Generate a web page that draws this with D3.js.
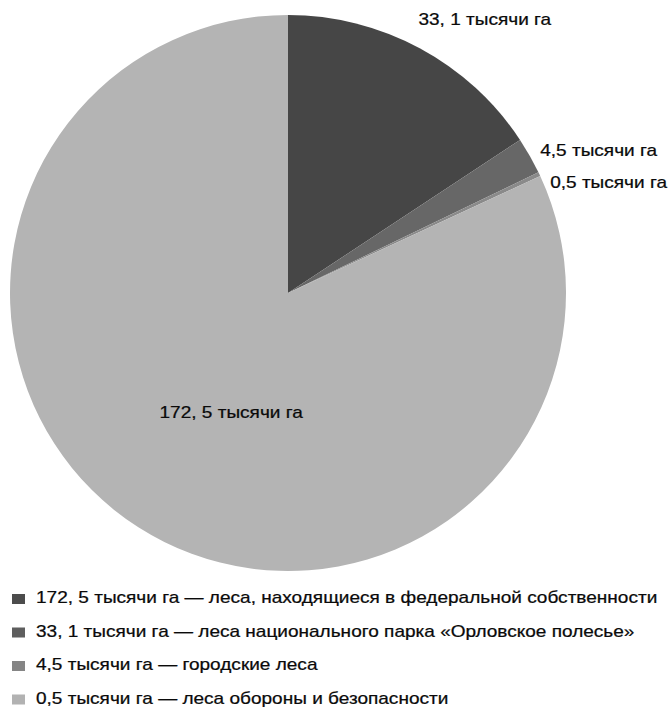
<!DOCTYPE html>
<html>
<head>
<meta charset="utf-8">
<script src="https://cdn.jsdelivr.net/npm/d3@7"></script>
<style>
  body { margin: 0; background: #fff; }
  text { font-family: "Liberation Sans", Arial, sans-serif; fill: #0a0a0a; stroke: #0a0a0a; stroke-width: 0.25; }
</style>
</head>
<body>
<div id="chart"></div>
<script>
// slices, clockwise from 12 o'clock
const sliceLabels = ["33, 1 тысячи га", "4,5 тысячи га", "0,5 тысячи га", "172, 5 тысячи га"];
const sliceValues = [33.1, 4.5, 0.5, 172.5];
const sliceColors = ["#464646", "#676767", "#8a8a8a", "#b4b4b4"];

// legend (as printed in the source)
const legendLabels = [
  "172, 5 тысячи га — леса, находящиеся в федеральной собственности",
  "33, 1 тысячи га — леса национального парка «Орловское полесье»",
  "4,5 тысячи га — городские леса",
  "0,5 тысячи га — леса обороны и безопасности"
];
const legendColors = ["#4c4c4c", "#5e5e5e", "#858585", "#b2b2b2"];

const width = 668;
const height = 718;
const cx = 288, cy = 293, r = 278;
const fontSize = 17;
const stretch = 1.12; // the scanned text is a bit wider than Arial

// small nudges so labels sit like the Excel ones
const nudge = [[-7, -17], [0, 2], [0, 14], [15, 8]];

const svg = d3.select("#chart")
  .append("svg")
  .attr("width", width)
  .attr("height", height)
  .attr("viewBox", [0, 0, width, height]);

const pie = d3.pie().sort(null).value((d) => d.value);
const data = sliceValues.map((v, i) => ({ value: v, label: sliceLabels[i], color: sliceColors[i] }));
const arcs = pie(data);

const arc = d3.arc().innerRadius(0).outerRadius(r);
const g = svg.append("g").attr("transform", `translate(${cx},${cy})`);

g.selectAll("path")
  .data(arcs)
  .join("path")
  .attr("d", arc)
  .attr("fill", (d) => d.data.color);

// labels: small slices outside, big slice inside
const outerArc = d3.arc().innerRadius(r + 12).outerRadius(r + 12);
const innerArc = d3.arc().innerRadius(r * 0.48).outerRadius(r * 0.48);
const big = d3.max(sliceValues);

g.selectAll("text")
  .data(arcs)
  .join("text")
  .attr("font-size", fontSize)
  .attr("dominant-baseline", "middle")
  .attr("text-anchor", (d) => (d.data.value === big ? "middle" : "start"))
  .attr("transform", (d, i) => {
    const p = (d.data.value === big ? innerArc : outerArc).centroid(d);
    return `translate(${p[0] + nudge[i][0]},${p[1] + nudge[i][1]}) scale(${stretch},1)`;
  })
  .text((d) => d.data.label);

// legend
const legend = svg.append("g").attr("transform", "translate(12,599)");
const rows = legend.selectAll("g")
  .data(legendLabels)
  .join("g")
  .attr("transform", (d, i) => `translate(0,${i * 33.5})`);

rows.append("rect")
  .attr("x", 0).attr("y", -5)
  .attr("width", 13).attr("height", 10)
  .attr("fill", (d, i) => legendColors[i]);

rows.append("text")
  .attr("font-size", fontSize)
  .attr("dominant-baseline", "middle")
  .attr("transform", `translate(24,0) scale(${stretch},1)`)
  .text((d) => d);
</script>
</body>
</html>
